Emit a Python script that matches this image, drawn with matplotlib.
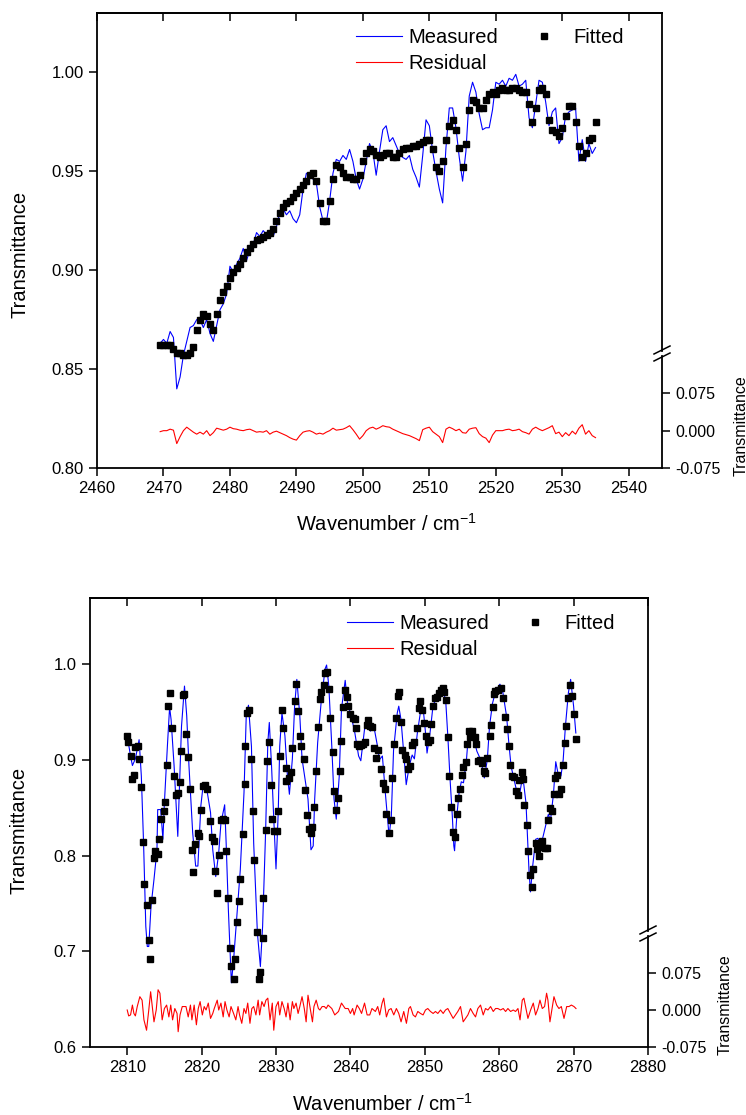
import numpy as np
import matplotlib
matplotlib.use("Agg")
import matplotlib.pyplot as plt
from matplotlib.lines import Line2D

plt.rcParams['font.family'] = ['Liberation Sans', 'DejaVu Sans']
plt.rcParams['mathtext.default'] = 'regular'

# ---------------- top panel data (2460-2545 cm-1) ----------------
top_x = np.arange(2469.5, 2535.01, 0.5)

top_measured = [
    0.863, 0.865, 0.863, 0.869, 0.866, 0.840, 0.846, 0.857, 0.864, 0.871,
    0.872, 0.875, 0.875, 0.871, 0.875, 0.868, 0.864, 0.872, 0.880, 0.883,
    0.888, 0.902, 0.899, 0.903, 0.906, 0.911, 0.905, 0.910, 0.913, 0.919,
    0.917, 0.920, 0.918, 0.919, 0.917, 0.922, 0.929, 0.931, 0.928, 0.930,
    0.926, 0.924, 0.928, 0.941, 0.949, 0.948, 0.946, 0.944, 0.932, 0.925,
    0.924, 0.935, 0.949, 0.956, 0.955, 0.958, 0.956, 0.961, 0.955, 0.946,
    0.941, 0.946, 0.955, 0.964, 0.960, 0.948, 0.960, 0.971, 0.973, 0.965,
    0.967, 0.963, 0.959, 0.957, 0.956, 0.958, 0.951, 0.947, 0.942, 0.958,
    0.976, 0.973, 0.960, 0.950, 0.941, 0.934, 0.962, 0.982, 0.982, 0.972,
    0.957, 0.945, 0.960, 0.988, 0.995, 0.990, 0.979, 0.971, 0.972, 0.972,
    0.981, 0.995, 0.994, 0.996, 0.993, 0.997, 0.996, 0.999, 0.993, 0.994,
    0.996, 0.977, 0.972, 0.984, 0.996, 0.995, 0.985, 0.973, 0.980, 0.982,
    0.964, 0.967, 0.978, 0.980, 0.981, 0.982, 0.955, 0.966, 0.955, 0.964,
    0.959, 0.962,
]

top_fitted = [
    0.862, 0.862, 0.862, 0.862, 0.860, 0.858, 0.858, 0.857, 0.857, 0.858,
    0.861, 0.870, 0.875, 0.878, 0.877, 0.873, 0.870, 0.878, 0.885, 0.889,
    0.892, 0.896, 0.899, 0.901, 0.903, 0.906, 0.909, 0.911, 0.913, 0.915,
    0.916, 0.917, 0.918, 0.919, 0.921, 0.925, 0.929, 0.932, 0.934, 0.935,
    0.937, 0.939, 0.941, 0.943, 0.945, 0.948, 0.949, 0.945, 0.934, 0.925,
    0.925, 0.935, 0.946, 0.953, 0.952, 0.949, 0.947, 0.947, 0.946, 0.946,
    0.948, 0.955, 0.959, 0.961, 0.960, 0.958, 0.957, 0.958, 0.959, 0.959,
    0.957, 0.957, 0.959, 0.961, 0.962, 0.962, 0.963, 0.963, 0.964, 0.965,
    0.966, 0.966, 0.961, 0.952, 0.950, 0.955, 0.966, 0.973, 0.976, 0.971,
    0.962, 0.952, 0.964, 0.981, 0.986, 0.985, 0.982, 0.982, 0.986, 0.989,
    0.990, 0.989, 0.991, 0.992, 0.991, 0.991, 0.992, 0.992, 0.991, 0.990,
    0.990, 0.984, 0.975, 0.982, 0.991, 0.992, 0.989, 0.976, 0.971, 0.970,
    0.968, 0.972, 0.978, 0.983, 0.983, 0.975, 0.963, 0.957, 0.959, 0.966,
    0.967, 0.975,
]

top_residual = [
    -0.002, 0.000, 0.000, 0.003, 0.001, -0.026, -0.012, 0.000, 0.007, 0.002,
    -0.003, -0.007, -0.003, -0.007, 0.000, -0.010, -0.004, 0.005, 0.003, 0.001,
    0.003, 0.007, 0.004, 0.003, 0.001, 0.000, 0.002, 0.003, 0.000, -0.003,
    -0.002, -0.003, 0.000, -0.007, -0.003, -0.001, -0.004, -0.007, -0.010, -0.014,
    -0.017, -0.019, -0.010, -0.003, -0.001, 0.000, -0.003, -0.007, -0.005, -0.007,
    -0.003, 0.000, 0.005, 0.001, 0.002, 0.003, 0.006, 0.010, 0.002, -0.007,
    -0.017, -0.010, 0.000, 0.005, 0.007, 0.003, 0.006, 0.010, 0.008, 0.007,
    0.003, 0.000, -0.003, -0.006, -0.008, -0.010, -0.013, -0.016, -0.020, 0.002,
    0.005, 0.007, -0.002, -0.007, -0.012, -0.024, 0.003, 0.007, 0.004, 0.000,
    0.003, -0.004, -0.005, 0.003, 0.005, 0.006, -0.006, -0.012, -0.015, -0.024,
    -0.009, 0.000, 0.000, 0.000, 0.002, 0.003, 0.000, 0.001, 0.003, -0.002,
    -0.004, -0.007, 0.003, 0.007, 0.003, 0.000, 0.003, 0.006, 0.010, -0.006,
    -0.003, -0.012, -0.004, -0.010, -0.001, -0.007, 0.005, 0.012, -0.007, 0.000,
    -0.010, -0.014,
]

# ---------------- bottom panel data (2805-2880 cm-1) ----------------
bot_meas_x = [
    2810.0, 2810.45, 2810.7, 2811.1, 2811.6, 2811.9, 2812.2, 2812.5, 2812.7, 2812.9,
    2813.2, 2813.6, 2814.0, 2814.1, 2814.5, 2814.8, 2815.0, 2815.4, 2815.7, 2815.9,
    2816.3, 2816.8, 2817.0, 2817.3, 2817.7, 2818.0, 2818.3, 2818.8, 2819.2, 2819.5,
    2819.9, 2820.2, 2820.7, 2821.2, 2821.5, 2821.9, 2822.3, 2822.6, 2823.1, 2823.3,
    2823.6, 2824.0, 2824.3, 2824.8, 2825.2, 2825.7, 2826.0, 2826.3, 2826.7, 2827.0,
    2827.5, 2827.9, 2828.2, 2828.6, 2828.9, 2829.1, 2829.4, 2829.7, 2830.0, 2830.3,
    2830.5, 2830.8, 2831.2, 2831.5, 2831.8, 2832.2, 2832.5, 2832.8, 2833.2, 2833.5,
    2833.9, 2834.3, 2834.7, 2835.0, 2835.2, 2835.6, 2836.1, 2836.6, 2836.8, 2837.1,
    2837.5, 2837.8, 2838.1, 2838.5, 2838.8, 2839.3, 2839.6, 2840.1, 2840.6, 2841.1,
    2841.4, 2841.9, 2842.3, 2842.7, 2843.1, 2843.6, 2843.9, 2844.3, 2844.7, 2845.2,
    2845.5, 2845.8, 2846.3, 2846.5, 2846.8, 2847.2, 2847.5, 2847.9, 2848.3, 2848.6,
    2849.0, 2849.4, 2849.8, 2850.1, 2850.3, 2850.7, 2851.1, 2851.6, 2852.1, 2852.5,
    2852.8, 2853.1, 2853.4, 2853.7, 2853.9, 2854.0, 2854.3, 2854.6, 2854.9, 2855.2,
    2855.6, 2855.9, 2856.2, 2856.6, 2857.0, 2857.4, 2857.8, 2858.0, 2858.4, 2858.7,
    2859.1, 2859.5, 2860.1, 2860.5, 2861.0, 2861.3, 2861.6, 2862.0, 2862.3, 2862.7,
    2863.0, 2863.2, 2863.6, 2863.8, 2864.0, 2864.2, 2864.5, 2864.9, 2865.2, 2865.6,
    2865.9, 2866.2, 2866.6, 2866.9, 2867.3, 2867.6, 2867.9, 2868.3, 2868.6, 2868.9,
    2869.3, 2869.6, 2870.0, 2870.3,
]
bot_meas_y = [
    0.925, 0.904, 0.894, 0.901, 0.921, 0.883, 0.813, 0.726, 0.705, 0.705,
    0.747, 0.775, 0.806, 0.848, 0.848, 0.817, 0.855, 0.914, 0.955, 0.942,
    0.894, 0.820, 0.866, 0.935, 0.977, 0.946, 0.894, 0.824, 0.789, 0.789,
    0.852, 0.873, 0.869, 0.845, 0.806, 0.778, 0.803, 0.834, 0.853, 0.813,
    0.743, 0.667, 0.691, 0.743, 0.785, 0.866, 0.946, 0.957, 0.914, 0.813,
    0.719, 0.684, 0.726, 0.824, 0.918, 0.939, 0.894, 0.838, 0.786, 0.845,
    0.914, 0.949, 0.925, 0.887, 0.864, 0.901, 0.956, 0.984, 0.946, 0.901,
    0.880, 0.859, 0.806, 0.810, 0.859, 0.918, 0.963, 0.995, 0.999, 0.977,
    0.914, 0.859, 0.838, 0.883, 0.953, 0.983, 0.960, 0.946, 0.928, 0.904,
    0.899, 0.932, 0.942, 0.930, 0.937, 0.916, 0.900, 0.904, 0.865, 0.820,
    0.841, 0.910, 0.949, 0.956, 0.942, 0.904, 0.874, 0.893, 0.905, 0.901,
    0.928, 0.949, 0.952, 0.928, 0.907, 0.928, 0.956, 0.966, 0.973, 0.970,
    0.963, 0.924, 0.879, 0.841, 0.810, 0.805, 0.841, 0.865, 0.877, 0.876,
    0.900, 0.930, 0.928, 0.921, 0.909, 0.902, 0.890, 0.881, 0.900, 0.935,
    0.959, 0.971, 0.979, 0.970, 0.945, 0.917, 0.893, 0.879, 0.869, 0.862,
    0.876, 0.881, 0.855, 0.820, 0.785, 0.762, 0.789, 0.817, 0.818, 0.811,
    0.820, 0.830, 0.843, 0.837, 0.865, 0.898, 0.886, 0.883, 0.900, 0.935,
    0.970, 0.984, 0.956, 0.928,
]

bot_fit_x = [
    2810.0, 2810.1, 2810.45, 2810.7, 2810.9, 2811.1, 2811.4, 2811.6, 2811.9, 2812.1,
    2812.3, 2812.6, 2812.9, 2813.1, 2813.3, 2813.6, 2813.8, 2814.1, 2814.3, 2814.6,
    2814.9, 2815.1, 2815.3, 2815.5, 2815.8, 2816.0, 2816.3, 2816.5, 2816.8, 2817.1,
    2817.2, 2817.5, 2817.7, 2817.9, 2818.2, 2818.5, 2818.7, 2818.9, 2819.1, 2819.5,
    2819.7, 2819.9, 2820.2, 2820.5, 2820.7, 2821.1, 2821.4, 2821.6, 2821.8, 2822.1,
    2822.3, 2822.6, 2822.9, 2823.2, 2823.3, 2823.5, 2823.8, 2824.0, 2824.3, 2824.5,
    2824.7, 2825.0, 2825.2, 2825.5, 2825.8, 2825.9, 2826.1, 2826.4, 2826.7, 2826.9,
    2827.1, 2827.4, 2827.7, 2827.9, 2828.2, 2828.3, 2828.6, 2828.8, 2829.1, 2829.3,
    2829.5, 2829.7, 2830.1, 2830.3, 2830.5, 2830.8, 2831.0, 2831.3, 2831.4, 2831.7,
    2832.0, 2832.2, 2832.5, 2832.7, 2833.0, 2833.2, 2833.4, 2833.7, 2833.9, 2834.1,
    2834.4, 2834.7, 2834.9, 2835.1, 2835.4, 2835.6, 2835.9, 2836.1, 2836.4, 2836.6,
    2836.9, 2837.1, 2837.3, 2837.6, 2837.8, 2838.1, 2838.3, 2838.6, 2838.8, 2839.0,
    2839.3, 2839.5, 2839.7, 2840.0, 2840.3, 2840.6, 2840.7, 2840.9, 2841.2, 2841.4,
    2841.7, 2841.9, 2842.2, 2842.4, 2842.6, 2842.9, 2843.2, 2843.5, 2843.7, 2844.1,
    2844.4, 2844.6, 2844.8, 2845.2, 2845.4, 2845.6, 2845.8, 2846.1, 2846.4, 2846.5,
    2846.8, 2847.0, 2847.3, 2847.5, 2847.7, 2848.0, 2848.3, 2848.6, 2848.9, 2849.2,
    2849.4, 2849.6, 2849.9, 2850.1, 2850.4, 2850.7, 2850.9, 2851.1, 2851.4, 2851.7,
    2851.9, 2852.2, 2852.4, 2852.6, 2852.8, 2853.1, 2853.3, 2853.5, 2853.8, 2854.0,
    2854.3, 2854.5, 2854.7, 2855.0, 2855.2, 2855.5, 2855.7, 2856.0, 2856.1, 2856.4,
    2856.7, 2856.9, 2857.2, 2857.4, 2857.7, 2857.9, 2858.1, 2858.4, 2858.7, 2858.9,
    2859.1, 2859.3, 2859.5, 2859.8, 2860.2, 2860.5, 2860.8, 2861.0, 2861.3, 2861.4,
    2861.7, 2862.0, 2862.2, 2862.5, 2862.7, 2863.0, 2863.2, 2863.4, 2863.7, 2863.9,
    2864.1, 2864.4, 2864.6, 2864.9, 2865.1, 2865.3, 2865.6, 2865.8, 2866.1, 2866.4,
    2866.6, 2866.8, 2867.1, 2867.3, 2867.5, 2867.8, 2868.0, 2868.3, 2868.6, 2868.8,
    2869.0, 2869.2, 2869.5, 2869.8, 2870.0, 2870.3,
]
bot_fit_y = [
    0.925, 0.919, 0.904, 0.880, 0.884, 0.913, 0.914, 0.901, 0.872, 0.814,
    0.770, 0.748, 0.712, 0.692, 0.754, 0.797, 0.805, 0.802, 0.817, 0.838,
    0.846, 0.856, 0.895, 0.956, 0.970, 0.933, 0.883, 0.863, 0.865, 0.877,
    0.909, 0.968, 0.969, 0.927, 0.903, 0.870, 0.806, 0.783, 0.812, 0.824,
    0.820, 0.848, 0.873, 0.874, 0.869, 0.836, 0.819, 0.815, 0.784, 0.761,
    0.801, 0.837, 0.838, 0.837, 0.805, 0.756, 0.703, 0.685, 0.671, 0.692,
    0.731, 0.752, 0.776, 0.823, 0.875, 0.914, 0.949, 0.952, 0.901, 0.846,
    0.795, 0.720, 0.671, 0.678, 0.714, 0.756, 0.827, 0.899, 0.919, 0.874,
    0.838, 0.826, 0.826, 0.847, 0.904, 0.952, 0.933, 0.891, 0.878, 0.881,
    0.887, 0.912, 0.961, 0.979, 0.951, 0.925, 0.914, 0.901, 0.868, 0.842,
    0.828, 0.824, 0.830, 0.851, 0.888, 0.934, 0.964, 0.971, 0.978, 0.991,
    0.992, 0.974, 0.944, 0.908, 0.867, 0.848, 0.860, 0.888, 0.920, 0.955,
    0.973, 0.966, 0.956, 0.948, 0.944, 0.943, 0.933, 0.916, 0.914, 0.915,
    0.917, 0.919, 0.936, 0.942, 0.935, 0.934, 0.912, 0.902, 0.910, 0.890,
    0.876, 0.869, 0.843, 0.824, 0.837, 0.881, 0.917, 0.944, 0.967, 0.971,
    0.939, 0.910, 0.905, 0.901, 0.890, 0.893, 0.915, 0.919, 0.933, 0.954,
    0.961, 0.952, 0.938, 0.925, 0.919, 0.921, 0.937, 0.956, 0.965, 0.966,
    0.970, 0.973, 0.975, 0.971, 0.962, 0.924, 0.883, 0.851, 0.825, 0.819,
    0.843, 0.860, 0.869, 0.884, 0.892, 0.898, 0.917, 0.930, 0.924, 0.930,
    0.924, 0.916, 0.899, 0.900, 0.897, 0.888, 0.886, 0.902, 0.925, 0.936,
    0.955, 0.969, 0.972, 0.973, 0.975, 0.965, 0.945, 0.932, 0.914, 0.895,
    0.883, 0.882, 0.867, 0.863, 0.879, 0.887, 0.880, 0.853, 0.832, 0.805,
    0.780, 0.767, 0.786, 0.813, 0.807, 0.799, 0.809, 0.815, 0.808, 0.808,
    0.837, 0.850, 0.847, 0.864, 0.881, 0.884, 0.864, 0.869, 0.895, 0.918,
    0.935, 0.965, 0.978, 0.967, 0.948, 0.922,
]

bot_res_x = [
    2810.0, 2810.2, 2810.45, 2810.7, 2810.9, 2811.1, 2811.35, 2811.7, 2812.0, 2812.25,
    2812.6, 2812.9, 2813.15, 2813.4, 2813.6, 2813.9, 2814.15, 2814.4, 2814.7, 2815.0,
    2815.3, 2815.6, 2815.85, 2816.1, 2816.4, 2816.7, 2816.85, 2817.1, 2817.4, 2817.65,
    2817.9, 2818.2, 2818.5, 2818.7, 2819.0, 2819.3, 2819.55, 2819.8, 2820.1, 2820.35,
    2820.6, 2820.9, 2821.2, 2821.5, 2821.7, 2822.1, 2822.3, 2822.6, 2822.9, 2823.15,
    2823.4, 2823.7, 2823.95, 2824.3, 2824.6, 2824.9, 2825.1, 2825.4, 2825.7, 2825.95,
    2826.2, 2826.5, 2826.75, 2827.0, 2827.3, 2827.6, 2827.8, 2828.1, 2828.4, 2828.65,
    2828.9, 2829.2, 2829.5, 2829.7, 2830.0, 2830.3, 2830.5, 2830.8, 2831.1, 2831.35,
    2831.6, 2831.9, 2832.2, 2832.4, 2832.7, 2832.97, 2833.2, 2833.5, 2833.8, 2834.05,
    2834.3, 2834.6, 2834.9, 2835.1, 2835.4, 2835.7, 2835.9, 2836.2, 2836.5, 2836.75,
    2837.0, 2837.5, 2837.9, 2838.4, 2838.8, 2839.3, 2839.7, 2840.0, 2840.3, 2840.5,
    2840.9, 2841.2, 2841.5, 2841.9, 2842.25, 2842.6, 2842.9, 2843.36, 2843.67, 2843.94,
    2844.26, 2844.48, 2844.84, 2845.15, 2845.47, 2845.83, 2846.18, 2846.5, 2846.81, 2847.17,
    2847.53, 2847.85, 2848.07, 2848.43, 2848.74, 2849.06, 2849.42, 2849.77, 2850.09, 2850.4,
    2850.76, 2851.12, 2851.43, 2851.75, 2852.11, 2852.47, 2852.78, 2853.09, 2853.45, 2853.81,
    2854.13, 2854.44, 2854.8, 2855.16, 2855.47, 2855.79, 2856.14, 2856.5, 2856.82, 2857.13,
    2857.49, 2857.85, 2858.16, 2858.48, 2858.84, 2859.2, 2859.51, 2859.82, 2860.18, 2860.54,
    2860.86, 2861.17, 2861.53, 2861.89, 2862.2, 2862.52, 2862.8, 2863.1, 2863.32, 2863.55,
    2863.86, 2864.22, 2864.58, 2864.89, 2865.21, 2865.48, 2865.79, 2866.1, 2866.37, 2866.55,
    2866.82, 2867.14, 2867.36, 2867.72, 2868.03, 2868.35, 2868.71, 2869.07, 2869.38, 2869.7,
    2870.05, 2870.32,
]
bot_res_y = [
    0.000, -0.012, -0.010, 0.010, -0.007, -0.012, 0.007, 0.027, 0.020, -0.020,
    -0.041, 0.000, 0.037, 0.003, -0.024, 0.000, 0.041, 0.034, -0.020, 0.003,
    0.010, -0.014, 0.010, -0.020, 0.003, -0.007, -0.044, -0.010, 0.007, 0.007,
    0.007, -0.014, 0.010, -0.020, 0.010, -0.030, 0.003, 0.017, -0.010, 0.007,
    0.000, 0.014, -0.017, -0.007, 0.003, 0.020, 0.000, 0.014, -0.014, 0.017,
    0.000, -0.014, 0.007, -0.007, -0.020, 0.007, -0.010, -0.027, 0.003, -0.007,
    0.014, -0.027, 0.003, 0.007, -0.010, 0.020, -0.010, 0.017, 0.007, 0.020,
    0.024, -0.020, 0.014, -0.041, 0.007, 0.017, -0.010, 0.017, 0.003, -0.014,
    0.014, -0.020, 0.017, 0.003, 0.014, -0.007, 0.007, 0.027, 0.003, -0.024,
    0.030, 0.003, -0.024, 0.007, 0.020, 0.003, 0.000, 0.007, 0.007, 0.003,
    0.010, 0.003, -0.010, -0.003, 0.014, 0.003, 0.003, -0.007, 0.003, -0.010,
    0.010, 0.003, -0.007, 0.014, -0.010, -0.010, 0.003, -0.003, 0.007, -0.010,
    0.014, 0.024, -0.014, 0.000, 0.003, -0.010, 0.003, -0.007, -0.024, -0.003,
    -0.027, 0.003, 0.007, -0.010, -0.014, -0.003, -0.007, -0.010, 0.000, 0.003,
    -0.003, -0.007, -0.003, -0.007, 0.000, -0.007, 0.000, 0.003, -0.007, -0.017,
    -0.010, -0.003, 0.007, -0.024, -0.017, -0.010, 0.003, -0.007, -0.014, 0.003,
    0.010, -0.010, 0.003, 0.000, 0.007, -0.003, 0.003, 0.003, 0.000, 0.003,
    -0.003, 0.003, -0.003, 0.000, -0.003, 0.003, -0.020, 0.020, 0.024, 0.007,
    -0.017, 0.000, 0.014, -0.010, 0.003, 0.020, 0.003, 0.007, 0.034, 0.020,
    -0.024, 0.007, 0.027, 0.010, 0.003, 0.007, -0.017, 0.007, 0.007, 0.010,
    0.007, 0.003,
]

top_xticks = [2460, 2470, 2480, 2490, 2500, 2510, 2520, 2530, 2540]
top_yticks = [0.80, 0.85, 0.90, 0.95, 1.00]
bot_xticks = [2810, 2820, 2830, 2840, 2850, 2860, 2870, 2880]
bot_yticks = [0.6, 0.7, 0.8, 0.9, 1.0]
res_ticks = [-0.075, 0.000, 0.075]

W, H = 746, 1115
fig = plt.figure(figsize=(W / 100, H / 100), dpi=100)


def fx(px):
    return px / W


def fy(py):
    return 1 - py / H


def panel(left, right, top, bottom, res_top, xlim, ylim, xticks, yticks, yfmt,
          xm, ym, xf, yf, xr, yr, break_y, legend_anchor, xlab_xy, ylab_xy, rlab_xy):
    ax = fig.add_axes([fx(left), fy(bottom), fx(right - left), (bottom - top) / H])
    ax.plot(xm, ym, color='#0000FF', lw=0.8)
    ax.plot(xf, yf, ls='none', marker='s', ms=4.4, color='black')
    ax.set_xlim(*xlim)
    ax.set_ylim(*ylim)
    ax.set_xticks(xticks)
    ax.set_yticks(yticks)
    ax.set_yticklabels([yfmt.format(v) for v in yticks])
    ax.tick_params(axis='both', direction='out', length=6, width=1.1, labelsize=12,
                   top=False, right=False)
    top_ax = ax.secondary_xaxis('top')
    top_ax.set_xticks(xticks)
    top_ax.tick_params(direction='in', length=6, width=1.1, labeltop=False)
    for s in ax.spines.values():
        s.set_linewidth(1.3)
    top_ax.spines['top'].set_linewidth(1.3)
    y_break = ylim[0] + (bottom - break_y) / (bottom - top) * (ylim[1] - ylim[0])
    ax.spines['right'].set_bounds(y_break, ylim[1])
    ax.set_xlabel('Wavenumber / cm$^{-1}$', fontsize=14.5)
    ax.xaxis.set_label_coords(*xlab_xy)
    ax.set_ylabel('Transmittance', fontsize=14.5)
    ax.yaxis.set_label_coords(*ylab_xy)

    hm = Line2D([], [], color='#0000FF', lw=0.8)
    hr = Line2D([], [], color='#FF0000', lw=0.8)
    hf = Line2D([], [], ls='none', marker='s', ms=4.5, color='black')
    ax.legend([hm, hr, hf], ['Measured', 'Residual', 'Fitted'], ncol=2,
              loc='upper left', bbox_to_anchor=legend_anchor, frameon=False,
              fontsize=14.5, handlelength=2.3, handletextpad=0.3,
              columnspacing=1.15, labelspacing=0.33, borderpad=0, borderaxespad=0)

    # residual layer sharing the x range, right axis only
    ar = fig.add_axes([fx(left), fy(bottom), fx(right - left), (bottom - res_top) / H])
    ar.patch.set_alpha(0)
    ar.plot(xr, yr, color='#FF0000', lw=0.8)
    ar.set_xlim(*xlim)
    ar.set_ylim(-0.075, 0.15)
    ar.set_yticks(res_ticks)
    ar.set_yticklabels(['{:.3f}'.format(v) for v in res_ticks])
    for side in ['left', 'top', 'bottom']:
        ar.spines[side].set_visible(False)
    ar.spines['right'].set_linewidth(1.3)
    ar.xaxis.set_visible(False)
    ar.yaxis.tick_right()
    ar.yaxis.set_label_position('right')
    ar.tick_params(axis='y', direction='out', length=6, width=1.1, labelsize=11.5)
    ar.set_ylabel('Transmittance', fontsize=11.5)
    ar.yaxis.set_label_coords(*rlab_xy)

    # axis break marks
    for dy in (-4, 3):
        fig.add_artist(Line2D([fx(right - 8), fx(right + 8)],
                              [fy(break_y + 7 + dy), fy(break_y - 1 + dy)],
                              color='black', lw=1.1))
    return ax


panel(97, 662, 13, 468, 356, (2460, 2545), (0.80, 1.03), top_xticks, top_yticks,
      '{:.2f}', top_x, top_measured, top_x, top_fitted, top_x, top_residual,
      351, (0.4584, 0.966), (0.513, -0.099), (-0.119, 0.47), (1.126, 0.375))

panel(90, 648, 598, 1047, 936, (2805, 2880), (0.60, 1.069), bot_xticks, bot_yticks,
      '{:.1f}', bot_meas_x, bot_meas_y, bot_fit_x, bot_fit_y, bot_res_x, bot_res_y,
      931, (0.4606, 0.964), (0.525, -0.102), (-0.111, 0.483), (1.125, 0.378))

fig.savefig('out.png', dpi=100)
